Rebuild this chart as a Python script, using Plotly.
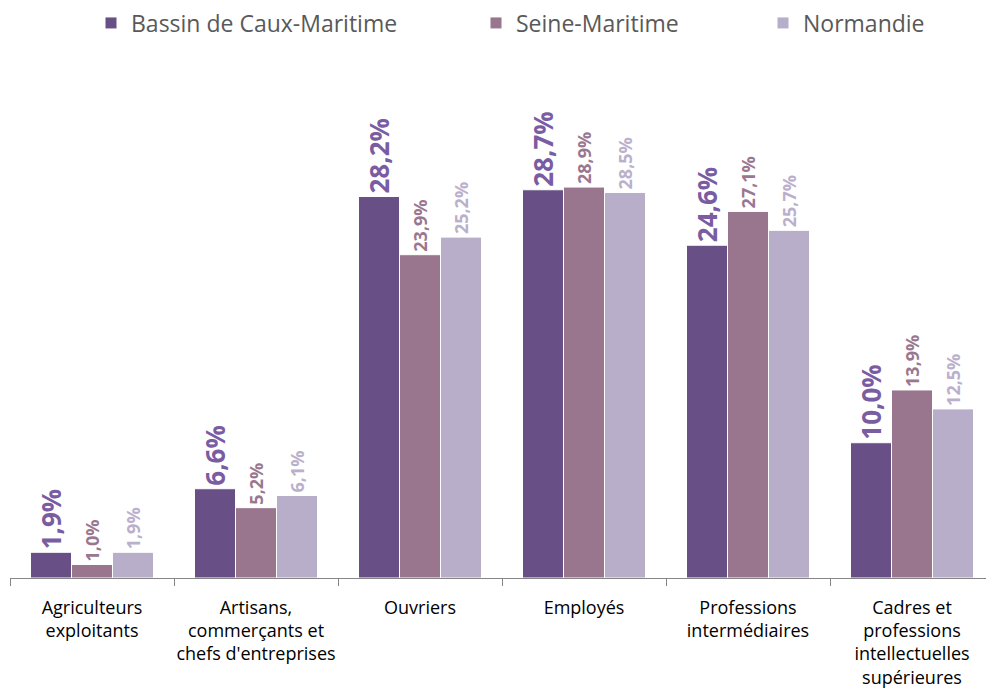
import plotly.graph_objects as go

categories = ["Agriculteurs<br>exploitants",
              "Artisans,<br>commerçants et<br>chefs d'entreprises",
              "Ouvriers",
              "Employés",
              "Professions<br>intermédiaires",
              "Cadres et<br>professions<br>intellectuelles<br>supérieures"]
series_names = ["Bassin de Caux-Maritime", "Seine-Maritime", "Normandie"]
bassin = [1.9, 6.6, 28.2, 28.7, 24.6, 10.0]
seine = [1.0, 5.2, 23.9, 28.9, 27.1, 13.9]
normandie = [1.9, 6.1, 25.2, 28.5, 25.7, 12.5]

colors = ["#684F86", "#99768E", "#B9AECA"]
label_colors = ["#7A5CA3", "#9A7790", "#BBB0CC"]
label_sizes = [26, 18, 18]
values = [bassin, seine, normandie]
legends = ["legend", "legend2", "legend3"]
legend_x_px = [91, 476, 763]

FONT = "Open Sans"
H = 683

fig = go.Figure()
for name, vals, col, lcol, ls, lg in zip(series_names, values, colors, label_colors, label_sizes, legends):
    fig.add_trace(go.Bar(
        name=name, x=categories, y=vals,
        marker=dict(color=col, line=dict(color="white", width=1)),
        text=[f"<b>{v:.1f}%</b>".replace(".", ",") for v in vals],
        textposition="outside", textangle=-90, constraintext="none",
        textfont=dict(family=FONT, size=ls, color=lcol),
        cliponaxis=False, legend=lg, showlegend=True,
    ))

legend_common = dict(orientation="h", yanchor="middle", xanchor="left",
                     yref="container", y=1 - 15 / H,
                     font=dict(family=FONT, size=23, color="#595959"),
                     bgcolor="rgba(0,0,0,0)")
fig.update_layout(
    barmode="group", bargap=0.25, bargroupgap=0,
    width=986, height=H,
    margin=dict(l=2, r=0, t=83, b=113, autoexpand=False),
    plot_bgcolor="white", paper_bgcolor="white",
    font=dict(family=FONT),
    showlegend=True,
    legend=dict(x=(legend_x_px[0] - 10) / 984, **legend_common),
    legend2=dict(x=(legend_x_px[1] - 10) / 984, **legend_common),
    legend3=dict(x=(legend_x_px[2] - 10) / 984, **legend_common),
    xaxis=dict(showline=True, linecolor="#868686", linewidth=1,
               ticks="outside", tickson="boundaries", ticklen=7, tickcolor="#868686",
               tickangle=0, ticklabelstandoff=13,
               tickfont=dict(family=FONT, size=18, color="#000000"),
               showgrid=False, automargin=False),
    yaxis=dict(range=[0, 36], visible=False, showgrid=False, zeroline=False),
)

fig.write_html("out.html")
